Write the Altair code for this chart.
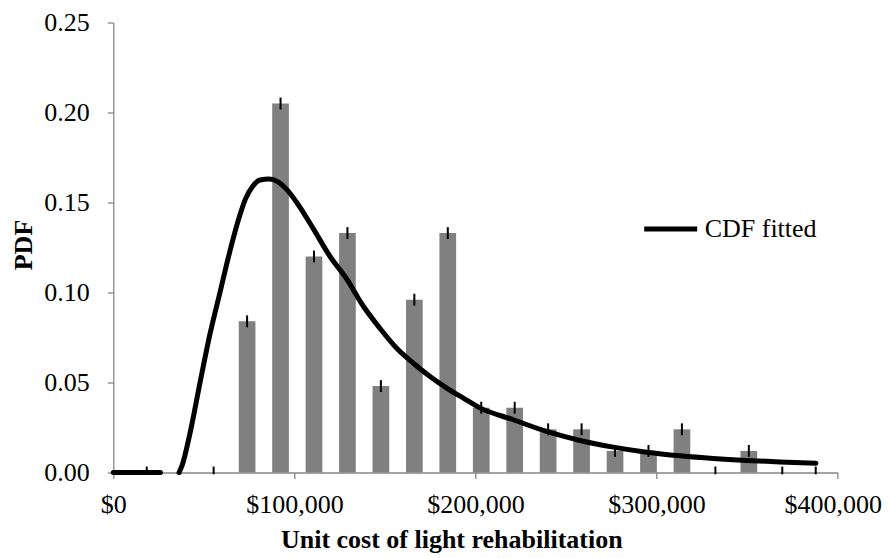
import altair as alt
import pandas as pd

# ---- data ----
bin_x = [18470, 36940, 55410, 73880, 92350, 110820, 129290, 147760, 166230, 184700,
         203170, 221640, 240110, 258580, 277050, 295520, 313990, 332460, 350930, 369400, 387870]
pdf_vals = [0.0, 0.0, 0.0, 0.084, 0.205, 0.120, 0.133, 0.048, 0.096, 0.133,
            0.036, 0.036, 0.024, 0.024, 0.012, 0.012, 0.024, 0.0, 0.012, 0.0, 0.0]
err_half = 0.0033

curve_x = [0, 20000, 26000,
           36300, 38000, 42400, 47900, 53400, 58900, 64400, 69900, 73000, 77000, 81000,
           86000, 91000, 96000, 101300, 110400, 119700, 128900, 138000, 147300, 156500,
           165700, 174900, 184100, 193300, 202500, 220900, 239300, 257700, 276100,
           294500, 312900, 331300, 349700, 368100, 388000]
curve_y = [0.0, 0.0, 0.0,
           0.0, 0.004, 0.022, 0.050, 0.077, 0.100, 0.123, 0.143, 0.152, 0.159, 0.1625,
           0.163, 0.1615, 0.157, 0.150, 0.1355, 0.120, 0.1075, 0.0925, 0.080, 0.069,
           0.0607, 0.0533, 0.0469, 0.0413, 0.0359, 0.0293, 0.0228, 0.0178, 0.0141,
           0.0113, 0.0093, 0.0078, 0.0067, 0.0059, 0.0052]
curve_seg = ["a"] * 3 + ["b"] * (len(curve_x) - 3)

x_ticks = [0, 100000, 200000, 300000, 400000]
y_ticks = [0.0, 0.05, 0.10, 0.15, 0.20, 0.25]

bars_df = pd.DataFrame({
    "x": bin_x,
    "pdf": pdf_vals,
    "lo": [max(v - err_half, -0.001) for v in pdf_vals],
    "hi": [v + err_half for v in pdf_vals],
})
curve_df = pd.DataFrame({"x": curve_x, "y": curve_y, "seg": curve_seg,
                         "series": ["CDF fitted"] * len(curve_x)})

FONT = "Liberation Serif"
xscale = alt.Scale(domain=[0, 400000], nice=False, zero=False, padding=0)
yscale = alt.Scale(domain=[0, 0.25], nice=False, padding=0)

x_axis = alt.Axis(values=x_ticks, format="$,.0f", title="Unit cost of light rehabilitation",
                  labelBaseline="alphabetic", labelPadding=34, labelFlush=False,
                  labelOffset={"condition": {"test": "datum.value >= 400000", "value": -5},
                               "value": 0},
                  titleX=338, titleY=75,
                  titleBaseline="alphabetic", titleAlign="center")
y_axis = alt.Axis(values=y_ticks, format=".2f", title="PDF", labelPadding=18,
                  titleAngle=270, titleX=-82, titleY=222, titleBaseline="alphabetic",
                  titleAlign="center")

bars = alt.Chart(bars_df).mark_bar(size=16.7, color="#808080").encode(
    x=alt.X("x:Q", scale=xscale, axis=x_axis),
    y=alt.Y("pdf:Q", scale=yscale, axis=y_axis),
)
errs = alt.Chart(bars_df).mark_rule(color="black", strokeWidth=2).encode(
    x=alt.X("x:Q", scale=xscale),
    y=alt.Y("lo:Q", scale=yscale),
    y2="hi:Q",
)
line = alt.Chart(curve_df).mark_line(strokeWidth=5, interpolate="monotone",
                                     strokeCap="round", strokeJoin="round").encode(
    x=alt.X("x:Q", scale=xscale),
    y=alt.Y("y:Q", scale=yscale),
    detail="seg:N",
    color=alt.Color("series:N",
                    scale=alt.Scale(domain=["CDF fitted"], range=["black"]),
                    legend=alt.Legend(title=None, orient="none", legendX=528.4, legendY=177.5,
                                      symbolType="stroke", symbolSize=2809,
                                      symbolStrokeWidth=5, labelOffset=5, padding=0,
                                      labelFont=FONT, labelFontSize=26, labelColor="black")),
)

chart = alt.layer(bars, errs, line).properties(
    width=724.4, height=450,
    autosize=alt.AutoSizeParams(type="none"),
    padding={"left": 105.3, "top": 14.5, "right": 45, "bottom": 83},
).configure_view(stroke=None).configure_axis(
    grid=False, domainColor="#868686", domainWidth=1.3, tickColor="#868686",
    tickWidth=1.3, tickSize=6, labelFont=FONT, labelFontSize=26, labelColor="black",
    titleFont=FONT, titleFontSize=26, titleFontWeight="bold", titleColor="black",
)

chart.save("out.html", embed_options={"renderer": "svg", "actions": False})
